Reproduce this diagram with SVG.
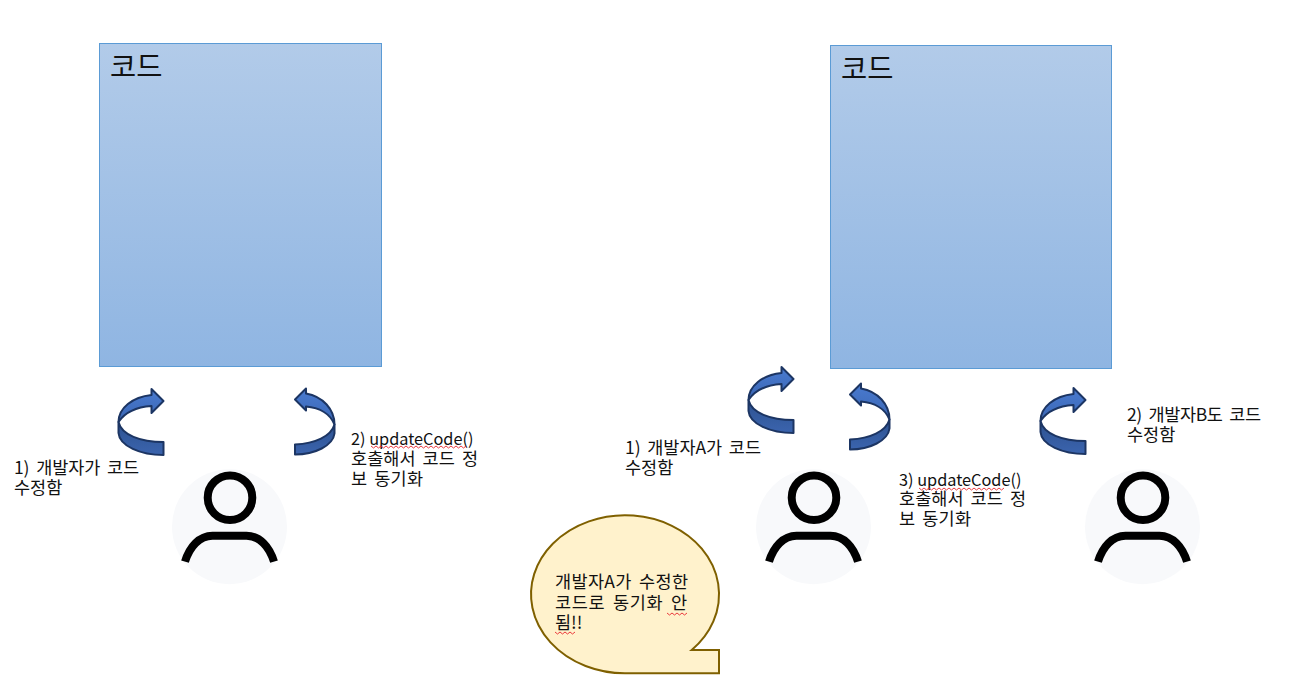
<svg xmlns="http://www.w3.org/2000/svg" width="1297" height="693" viewBox="0 0 1297 693">
<style>
text{font-family:"Noto Sans CJK KR","Liberation Sans",sans-serif;fill:#111}
.t{font-size:17.5px;word-spacing:3px}
.l{font-size:16.3px;word-spacing:0}
.h{font-size:28.5px}
.box{fill:url(#bg);stroke:#5b9bd5;stroke-width:1}
.bg{fill:#f8f9fb}
.ic{fill:none;stroke:#000;stroke-width:8}
.up{fill:url(#au);stroke:#1c3563;stroke-width:2;stroke-linejoin:round}
.lo{fill:url(#al);stroke:#1c3563;stroke-width:2;stroke-linejoin:round}
.sq{fill:none;stroke:#e8262c;stroke-width:.9}
</style>
<defs>
<linearGradient id="bg" x1="0" y1="0" x2="0" y2="1"><stop offset="0" stop-color="#b2cbe9"/><stop offset="1" stop-color="#8fb5e2"/></linearGradient>
<linearGradient id="au" x1="0" y1="0" x2="0" y2="1"><stop offset="0" stop-color="#4a7bd0"/><stop offset="1" stop-color="#3a66b4"/></linearGradient>
<linearGradient id="al" x1="0" y1="0" x2="0" y2="1"><stop offset="0" stop-color="#2d5290"/><stop offset="1" stop-color="#3b64ae"/></linearGradient>
<g id="arrowA">
<path class="lo" d="M0 33V44C1 57 22 66 45 66V53C22 53 3 46 0 33Z"/>
<path class="up" d="M33 0L45 12L33 24V17C18 18 6 24 0 33C0 19 14 8 33 6Z"/>
</g>
<g id="arrowB">
<path class="lo" d="M39.500 36V45C38 57 20 66 0 66V56C20 55 36 48 39.500 36Z"/>
<path class="up" d="M11 0L0 11L11 22V18C24 19 35 25 39.500 36C39.500 21 28 8 11 5Z"/>
</g>
<g id="person">
<circle class="bg" cx="0" cy="0" r="57.500"/>
<circle class="ic" cx="0.500" cy="-29" r="22.300"/>
<path class="ic" d="M-44.500 35C-40 20 -30 9 -17 9H17C30 9 40 20 44.500 35"/>
</g>
</defs>
<g id="code-left"><rect class="box" x="99.500" y="43.500" width="282" height="323"/><text class="h" x="110" y="77">코드</text></g>
<g id="code-right"><rect class="box" x="830.500" y="45.500" width="281" height="323"/><text class="h" x="841" y="79">코드</text></g>
<g id="connectors">
<use href="#arrowA" x="118.500" y="389"/>
<use href="#arrowB" x="295" y="388.500"/>
<use href="#arrowA" x="748.500" y="367"/>
<use href="#arrowB" x="850" y="383.500"/>
<use href="#arrowA" x="1040.500" y="388"/>
</g>
<g id="dev-1"><use href="#person" x="229.500" y="526.700"/></g>
<g id="dev-a"><use href="#person" x="813.500" y="526.700"/></g>
<g id="dev-b"><use href="#person" x="1142.500" y="526.700"/></g>
<g id="bubble">
<path d="M719 673.300H625A94 79 0 1 1 691.700 650H719Z" fill="#fff2cc" stroke="#7f6000" stroke-width="2"/>
<text class="t"><tspan x="555" y="588" textLength="133">개발자A가 수정한</tspan><tspan x="555" y="609" textLength="132">코드로 동기화 안</tspan><tspan x="555" y="629">됨!!</tspan></text>
<path class="sq" d="M667 613l2.500 2 2.500-2 2.500 2 2.500-2 2.500 2 2.500-2 2.500 2 2.500-2M555 632l2.500 2 2.500-2 2.500 2 2.500-2 2.500 2 2.500-2 2.500 2 2.500-2"/>
</g>
<g id="label-1"><text class="t"><tspan x="14" y="474" textLength="125">1) 개발자가 코드</tspan><tspan x="14" y="494">수정함</tspan></text></g>
<g id="label-2"><text class="t"><tspan class="l" x="351" y="445">2) updateCode()</tspan><tspan x="351" y="465" textLength="127">호출해서 코드 정</tspan><tspan x="351" y="485" textLength="72">보 동기화</tspan></text>
<path class="sq" d="M371 446l2.500 2 2.500-2 2.500 2 2.500-2 2.500 2 2.500-2 2.500 2 2.500-2 2.500 2 2.500-2 2.500 2 2.500-2 2.500 2 2.500-2 2.500 2 2.500-2 2.500 2 2.500-2 2.500 2 2.500-2 2.500 2 2.500-2 2.500 2 2.500-2 2.500 2 2.500-2 2.500 2 2.500-2 2.500 2 2.500-2 2.500 2 2.500-2 2.500 2 2.500-2 2.500 2 2.500-2 2.500 2 2.500-2"/></g>
<g id="label-3"><text class="t"><tspan x="625" y="454" textLength="136">1) 개발자A가 코드</tspan><tspan x="625" y="474">수정함</tspan></text></g>
<g id="label-4"><text class="t"><tspan class="l" x="899" y="486">3) updateCode()</tspan><tspan x="899" y="505" textLength="127">호출해서 코드 정</tspan><tspan x="899" y="525" textLength="72">보 동기화</tspan></text>
<path class="sq" d="M919 488l2.500 2 2.500-2 2.500 2 2.500-2 2.500 2 2.500-2 2.500 2 2.500-2 2.500 2 2.500-2 2.500 2 2.500-2 2.500 2 2.500-2 2.500 2 2.500-2 2.500 2 2.500-2 2.500 2 2.500-2 2.500 2 2.500-2 2.500 2 2.500-2 2.500 2 2.500-2 2.500 2 2.500-2 2.500 2 2.500-2 2.500 2 2.500-2 2.500 2 2.500-2"/></g>
<g id="label-5"><text class="t"><tspan x="1127" y="421" textLength="134">2) 개발자B도 코드</tspan><tspan x="1127" y="441">수정함</tspan></text></g>
</svg>
